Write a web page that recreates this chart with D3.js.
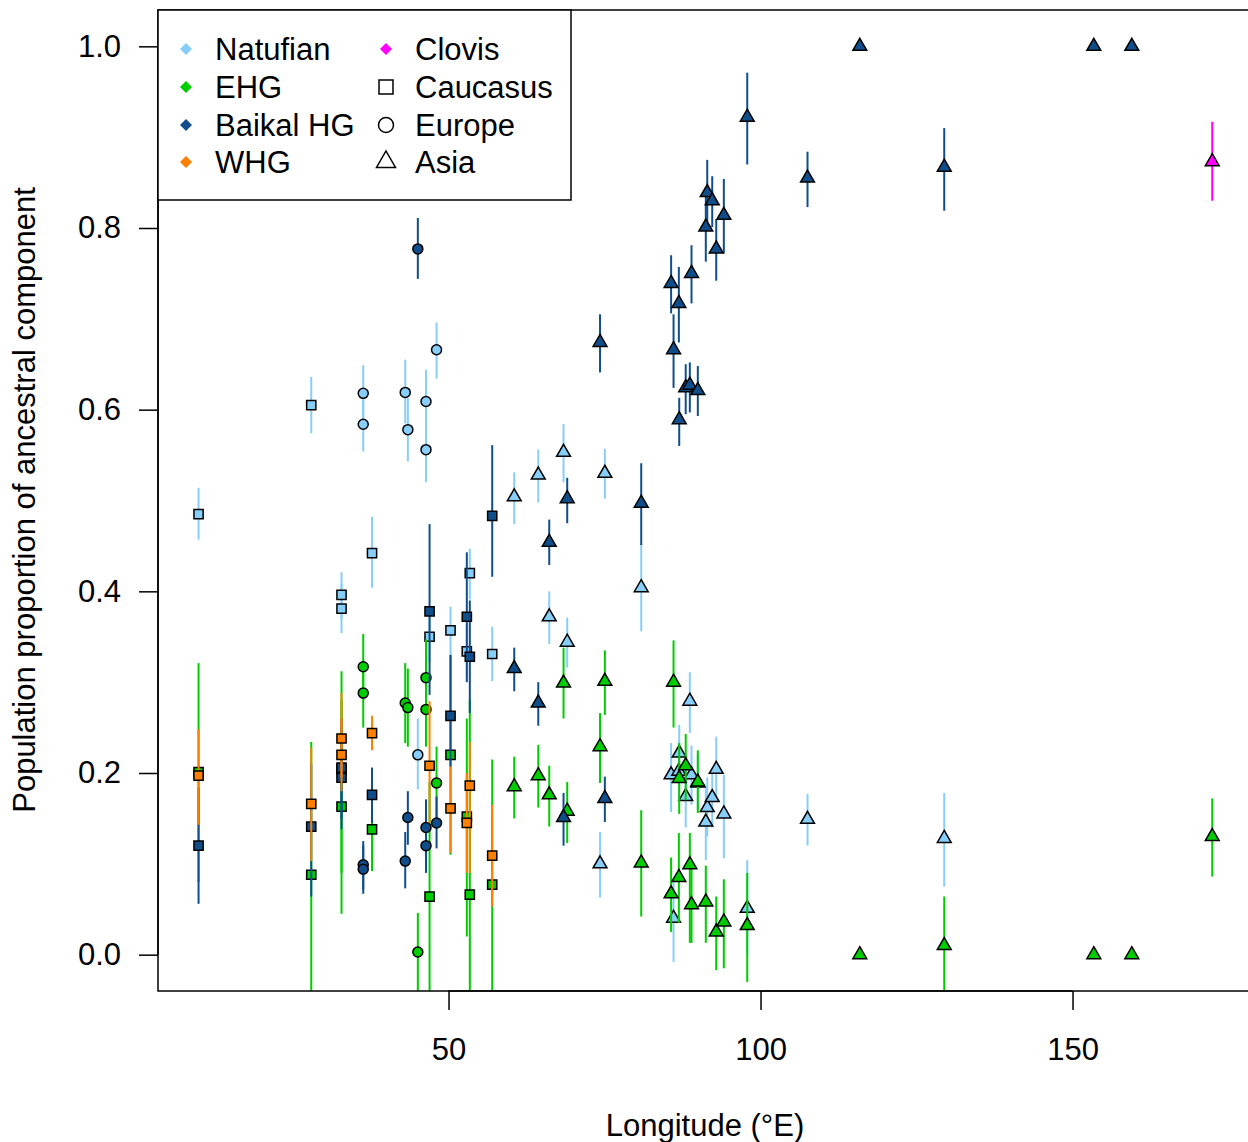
<!DOCTYPE html>
<html><head><meta charset="utf-8">
<script src="https://cdn.jsdelivr.net/npm/d3@7"></script>
<style>body{margin:0;background:#fff;} text{font-family:"Liberation Sans",Arial,Helvetica,sans-serif;}</style>
</head><body><svg id="c" width="1248" height="1142"></svg>
<script>
// [longitude, proportion, lower, upper, region]  region: C=Caucasus, E=Europe, A=Asia
const natufian = [
 [9.94,0.485,0.457,0.514,"C"],[28.0,0.605,0.574,0.636,"C"],[32.85,0.396,0.370,0.421,"C"],[32.85,0.381,0.354,0.408,"C"],
 [37.74,0.442,0.404,0.482,"C"],[46.96,0.350,0.322,0.378,"C"],[50.32,0.357,0.330,0.383,"C"],[52.93,0.334,0.305,0.363,"C"],
 [53.41,0.420,0.391,0.447,"C"],[57.0,0.331,0.301,0.361,"C"],
 [36.33,0.618,0.590,0.649,"E"],[36.33,0.584,0.554,0.613,"E"],[43.06,0.619,0.585,0.655,"E"],[43.48,0.578,0.543,0.613,"E"],
 [45.08,0.220,0.182,0.260,"E"],[46.39,0.609,0.575,0.644,"E"],[46.39,0.556,0.520,0.590,"E"],[48.08,0.666,0.634,0.696,"E"],
 [60.53,0.504,0.474,0.531,"A"],[64.38,0.528,0.498,0.556,"A"],[66.14,0.372,0.342,0.400,"A"],[68.43,0.553,0.520,0.584,"A"],
 [69.02,0.344,0.316,0.371,"A"],[74.28,0.100,0.063,0.135,"A"],[75.05,0.530,0.502,0.557,"A"],[80.88,0.404,0.356,0.452,"A"],
 [85.67,0.198,0.157,0.233,"A"],[86.06,0.040,-0.008,0.085,"A"],[86.91,0.202,0.170,0.235,"A"],[86.97,0.222,0.190,0.253,"A"],
 [88.01,0.174,0.140,0.205,"A"],[88.67,0.279,0.244,0.311,"A"],[88.94,0.198,0.165,0.230,"A"],[89.95,0.189,0.160,0.220,"A"],
 [91.23,0.146,0.104,0.185,"A"],[91.46,0.162,0.130,0.195,"A"],[92.26,0.173,0.140,0.205,"A"],[92.90,0.204,0.170,0.240,"A"],
 [94.12,0.155,0.106,0.198,"A"],[97.87,0.051,0.000,0.104,"A"],[107.53,0.149,0.120,0.177,"A"],[129.44,0.128,0.075,0.178,"A"]
];
const ehg = [
 [9.94,0.201,0.080,0.321,"C"],[28.0,0.088,-0.100,0.234,"C"],[32.85,0.163,0.045,0.280,"C"],[32.85,0.204,0.090,0.312,"C"],
 [37.74,0.138,0.092,0.185,"C"],[46.96,0.064,-0.100,0.190,"C"],[50.32,0.220,0.110,0.330,"C"],[52.93,0.152,0.020,0.260,"C"],
 [53.41,0.066,-0.100,0.281,"C"],[57.0,0.077,-0.100,0.215,"C"],
 [36.33,0.317,0.282,0.353,"E"],[36.33,0.288,0.250,0.322,"E"],[43.06,0.277,0.233,0.321,"E"],[43.48,0.272,0.229,0.315,"E"],
 [45.08,0.003,-0.100,0.046,"E"],[46.39,0.305,0.265,0.347,"E"],[46.39,0.270,0.229,0.310,"E"],[48.08,0.189,0.150,0.229,"E"],
 [60.53,0.185,0.150,0.218,"A"],[64.38,0.197,0.162,0.231,"A"],[66.14,0.176,0.141,0.208,"A"],[68.43,0.299,0.260,0.338,"A"],
 [69.02,0.158,0.123,0.190,"A"],[74.28,0.229,0.189,0.266,"A"],[75.05,0.301,0.264,0.335,"A"],[80.88,0.101,0.042,0.159,"A"],
 [85.67,0.067,0.025,0.107,"A"],[86.06,0.300,0.250,0.346,"A"],[86.91,0.085,0.035,0.134,"A"],[86.97,0.194,0.155,0.233,"A"],
 [88.01,0.208,0.170,0.243,"A"],[88.67,0.099,0.013,0.134,"A"],[88.94,0.055,0.013,0.095,"A"],[89.95,0.190,0.156,0.225,"A"],
 [91.23,0.058,0.013,0.098,"A"],[92.90,0.025,-0.017,0.064,"A"],[94.12,0.036,-0.015,0.083,"A"],[97.87,0.032,-0.030,0.090,"A"],
 [115.91,0.0,0.0,0.0,"A"],[129.44,0.010,-0.100,0.064,"A"],[153.41,0.0,0.0,0.0,"A"],[159.50,0.0,0.0,0.0,"A"],
 [172.39,0.130,0.086,0.172,"A"]
];
const baikal = [
 [9.94,0.120,0.056,0.184,"C"],[28.0,0.141,0.064,0.210,"C"],[32.85,0.206,0.150,0.260,"C"],[32.85,0.195,0.138,0.250,"C"],
 [37.74,0.176,0.145,0.206,"C"],[46.96,0.378,0.286,0.474,"C"],[50.32,0.263,0.207,0.330,"C"],[52.93,0.372,0.300,0.443,"C"],
 [53.41,0.328,0.266,0.390,"C"],[57.0,0.483,0.416,0.561,"C"],
 [36.33,0.099,0.072,0.125,"E"],[36.33,0.094,0.067,0.120,"E"],[43.06,0.103,0.073,0.135,"E"],[43.48,0.151,0.121,0.180,"E"],
 [45.08,0.777,0.744,0.811,"E"],[46.39,0.140,0.110,0.171,"E"],[46.39,0.120,0.090,0.150,"E"],[48.08,0.145,0.117,0.174,"E"],
 [60.53,0.315,0.290,0.338,"A"],[64.38,0.277,0.252,0.300,"A"],[66.14,0.454,0.429,0.479,"A"],[68.43,0.151,0.120,0.178,"A"],
 [69.02,0.502,0.475,0.525,"A"],[74.28,0.674,0.641,0.705,"A"],[75.05,0.172,0.146,0.196,"A"],[80.88,0.497,0.451,0.541,"A"],
 [85.67,0.739,0.706,0.770,"A"],[86.06,0.666,0.624,0.705,"A"],[86.91,0.717,0.674,0.757,"A"],[86.97,0.589,0.560,0.613,"A"],
 [88.01,0.624,0.595,0.650,"A"],[88.67,0.627,0.597,0.652,"A"],[88.94,0.750,0.717,0.781,"A"],[89.95,0.621,0.593,0.648,"A"],
 [91.23,0.801,0.763,0.835,"A"],[91.46,0.839,0.800,0.875,"A"],[92.26,0.830,0.801,0.857,"A"],[92.90,0.777,0.742,0.810,"A"],
 [94.12,0.814,0.772,0.854,"A"],[97.87,0.922,0.870,0.971,"A"],[107.53,0.855,0.823,0.884,"A"],[115.91,1.0,1.0,1.0,"A"],
 [129.44,0.867,0.819,0.910,"A"],[153.41,1.0,1.0,1.0,"A"],[159.50,1.0,1.0,1.0,"A"]
];
const whg = [
 [9.94,0.197,0.143,0.248,"C"],[28.0,0.166,0.103,0.228,"C"],[32.85,0.238,0.195,0.288,"C"],[32.85,0.220,0.180,0.260,"C"],
 [37.74,0.244,0.225,0.263,"C"],[46.96,0.208,0.145,0.279,"C"],[50.32,0.161,0.112,0.207,"C"],[52.93,0.145,0.090,0.200,"C"],
 [53.41,0.186,0.090,0.234,"C"],[57.0,0.109,0.053,0.165,"C"]
];
const clovis = [[172.39,0.873,0.830,0.917,"A"]];

const componentNames = ["Natufian","EHG","Baikal HG","WHG","Clovis"];
const componentColors = ["#87CEFA","#00CD00","#104E8B","#FF7F00","#FF00FF"];
const regionNames = ["Caucasus","Europe","Asia"];
const regionCodes = ["C","E","A"];
const yTicks = [0,0.2,0.4,0.6,0.8,1.0];
const xTicks = [50,100,150];

const svg = d3.select("#c");
const x = d3.scaleLinear().domain([3.44,178.89]).range([158,1252.8]);
const y = d3.scaleLinear().domain([-0.04,1.04]).range([991,10]);

svg.append("defs").append("clipPath").attr("id","clip")
  .append("rect").attr("x",158).attr("y",10).attr("width",1094.8).attr("height",981);

function shapePath(r){
  if(r==="C") return "M-4.6,-4.6h9.2v9.2h-9.2z";
  if(r==="E") return "M5,0A5,5 0 1,1 -5,0A5,5 0 1,1 5,0Z";
  return "M0,-8L6.93,4L-6.93,4Z";
}

const plot = svg.append("g").attr("clip-path","url(#clip)");
const seriesData = [natufian, ehg, baikal, whg, clovis];
seriesData.forEach((data,i)=>{
  const g = plot.append("g");
  g.selectAll("line").data(data.filter(d=>d[3]>d[2])).join("line")
    .attr("x1",d=>x(d[0])).attr("x2",d=>x(d[0]))
    .attr("y1",d=>y(d[2])).attr("y2",d=>y(d[3]))
    .attr("stroke",componentColors[i]).attr("stroke-width",2);
  g.selectAll("path").data(data).join("path")
    .attr("d",d=>shapePath(d[4]))
    .attr("transform",d=>`translate(${x(d[0])},${y(d[1])})`)
    .attr("fill",componentColors[i]).attr("stroke","#000").attr("stroke-width",1.5);
});

// axes
const yAxis = svg.append("g").attr("transform","translate(158,0)")
  .call(d3.axisLeft(y).tickValues(yTicks).tickFormat(d3.format(".1f")).tickSize(19).tickPadding(18));
const xAxis = svg.append("g").attr("transform","translate(0,991)")
  .call(d3.axisBottom(x).tickValues(xTicks).tickFormat(d3.format("d")).tickSize(19).tickPadding(28));
[yAxis,xAxis].forEach(a=>{
  a.select(".domain").remove();
  a.selectAll("line").attr("stroke","#000").attr("stroke-width",1.5);
  a.selectAll("text").attr("font-size",31).attr("fill","#000").attr("font-family","Liberation Sans, Arial, sans-serif");
});
svg.append("line").attr("x1",158).attr("x2",158).attr("y1",y(0)).attr("y2",y(1)).attr("stroke","#000").attr("stroke-width",1.5);
svg.append("line").attr("x1",x(50)).attr("x2",x(150)).attr("y1",991).attr("y2",991).attr("stroke","#000").attr("stroke-width",1.5);

// box
svg.append("rect").attr("x",158).attr("y",10).attr("width",1094.8).attr("height",981)
  .attr("fill","none").attr("stroke","#000").attr("stroke-width",1.5);

// titles
svg.append("text").attr("x",705).attr("y",1136).attr("text-anchor","middle").attr("font-size",31).text("Longitude (°E)");
svg.append("text").attr("transform","translate(35,500) rotate(-90)").attr("text-anchor","middle").attr("font-size",31)
  .text("Population proportion of ancestral component");

// legend
const lg = svg.append("g");
lg.append("rect").attr("x",158).attr("y",10).attr("width",413).attr("height",190)
  .attr("fill","#fff").attr("stroke","#000").attr("stroke-width",1.5);
const rowsY = [49,87,125,162];
const col1 = componentNames.slice(0,4).map((n,i)=>({name:n,color:componentColors[i],row:i}));
lg.selectAll(".d1").data(col1).join("path")
  .attr("d","M0,-6L6,0L0,6L-6,0Z").attr("transform",d=>`translate(186,${rowsY[d.row]})`).attr("fill",d=>d.color);
lg.selectAll(".t1").data(col1).join("text").attr("class","t1")
  .attr("x",215).attr("y",d=>rowsY[d.row]+11).attr("font-size",31).text(d=>d.name);
lg.append("path").attr("d","M0,-6L6,0L0,6L-6,0Z").attr("transform",`translate(386,${rowsY[0]})`).attr("fill",componentColors[4]);
lg.append("text").attr("x",415).attr("y",rowsY[0]+11).attr("font-size",31).text(componentNames[4]);
const legShapes = {C:"M-7,-7h14v14h-14z", E:"M7.5,0A7.5,7.5 0 1,1 -7.5,0A7.5,7.5 0 1,1 7.5,0Z", A:"M0,-11L9.5,5.5L-9.5,5.5Z"};
regionCodes.forEach((c,i)=>{
  lg.append("path").attr("d",legShapes[c]).attr("transform",`translate(386,${rowsY[i+1]})`)
    .attr("fill","none").attr("stroke","#000").attr("stroke-width",1.5);
  lg.append("text").attr("x",415).attr("y",rowsY[i+1]+11).attr("font-size",31).text(regionNames[i]);
});
</script></body></html>
